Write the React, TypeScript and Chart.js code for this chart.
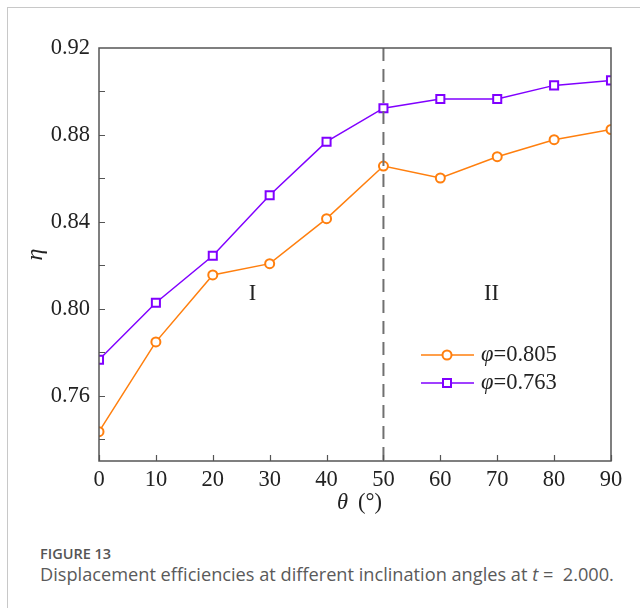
import React, { useEffect, useRef } from "react";
import { Chart, registerables } from "chart.js";

Chart.register(...registerables);

const THETA = [0, 10, 20, 30, 40, 50, 60, 70, 80, 90];
const ETA_PHI_0805 = [0.7435, 0.7848, 0.8156, 0.8208, 0.8415, 0.8657, 0.8602, 0.87, 0.8778, 0.8825];
const ETA_PHI_0763 = [0.7766, 0.8028, 0.8244, 0.8523, 0.8769, 0.8923, 0.8965, 0.8965, 0.9028, 0.9051];
const SERIES_NAMES = ["0.805", "0.763"];
const SERIES_COLORS = ["#ff7f0e", "#8000ff"];
const Y_MAJOR_TICKS = [0.76, 0.8, 0.84, 0.88, 0.92];
const Y_MINOR_TICKS = [0.74, 0.76, 0.78, 0.8, 0.82, 0.84, 0.86, 0.88, 0.9];
const X_TICKS = [0, 10, 20, 30, 40, 50, 60, 70, 80, 90];
const DIVIDER_THETA = 50;
const REGION_LABELS = [
  { text: "I", x: 27, y: 0.807 },
  { text: "II", x: 69, y: 0.807 },
];

const SERIF = '"Liberation Serif", "Times New Roman", serif';
const AXIS_COLOR = "#555";
const FS = 22.5;

const decorPlugin = {
  id: "decor",
  afterDatasetsDraw(chart: any) {
    const { ctx, chartArea: a, scales } = chart;
    const xs = scales.x;
    const ys = scales.y;
    ctx.save();
    // dashed divider
    const dx = xs.getPixelForValue(DIVIDER_THETA);
    ctx.strokeStyle = "#707070";
    ctx.lineWidth = 2;
    ctx.setLineDash([13, 8]);
    ctx.beginPath();
    ctx.moveTo(dx, a.top);
    ctx.lineTo(dx, a.bottom);
    ctx.stroke();
    ctx.setLineDash([]);

    // ticks inside
    ctx.strokeStyle = AXIS_COLOR;
    ctx.lineWidth = 1.2;
    ctx.beginPath();
    for (const v of Y_MINOR_TICKS) {
      const y = Math.round(ys.getPixelForValue(v)) + 0.5;
      ctx.moveTo(a.left, y);
      ctx.lineTo(a.left + 6, y);
    }
    for (const v of X_TICKS) {
      const x = Math.round(xs.getPixelForValue(v)) + 0.5;
      ctx.moveTo(x, a.bottom);
      ctx.lineTo(x, a.bottom - 6);
    }
    ctx.stroke();

    // frame
    ctx.lineWidth = 1.5;
    ctx.strokeStyle = AXIS_COLOR;
    ctx.strokeRect(a.left, a.top, a.right - a.left, a.bottom - a.top);

    // region labels
    ctx.fillStyle = "#222";
    ctx.font = `${FS}px ${SERIF}`;
    ctx.textAlign = "center";
    ctx.textBaseline = "middle";
    for (const r of REGION_LABELS) {
      ctx.fillText(r.text, xs.getPixelForValue(r.x), ys.getPixelForValue(r.y));
    }

    // legend
    const lx0 = a.left + 322;
    const lx1 = a.left + 375;
    const lm = a.left + 348;
    const ly = [a.top + 307, a.top + 335];
    SERIES_NAMES.forEach((name, i) => {
      const y = ly[i];
      ctx.strokeStyle = SERIES_COLORS[i];
      ctx.lineWidth = 1.5;
      ctx.beginPath();
      ctx.moveTo(lx0, y);
      ctx.lineTo(lx1, y);
      ctx.stroke();
      ctx.fillStyle = "#fff";
      ctx.lineWidth = 2;
      ctx.beginPath();
      if (i === 0) {
        ctx.arc(lm, y, 4.5, 0, Math.PI * 2);
      } else {
        ctx.rect(lm - 4, y - 4, 8, 8);
      }
      ctx.fill();
      ctx.stroke();
      ctx.fillStyle = "#222";
      ctx.textAlign = "left";
      ctx.textBaseline = "middle";
      ctx.font = `italic ${FS}px ${SERIF}`;
      const tx = lx1 + 7;
      ctx.fillText("\u03c6", tx, y);
      const w = ctx.measureText("\u03c6").width;
      ctx.font = `${FS}px ${SERIF}`;
      ctx.fillText("=" + name, tx + w, y);
    });

    // axis titles
    ctx.fillStyle = "#222";
    ctx.textBaseline = "middle";
    ctx.textAlign = "left";
    ctx.font = `italic ${FS}px ${SERIF}`;
    const tX = 337;
    const tY = 503;
    ctx.fillText("\u03b8", tX, tY);
    const tw = ctx.measureText("\u03b8").width;
    ctx.font = `${FS}px ${SERIF}`;
    ctx.fillText("(\u00b0)", tX + tw + 10, tY);

    ctx.translate(36, (a.top + a.bottom) / 2);
    ctx.rotate(-Math.PI / 2);
    ctx.textAlign = "center";
    ctx.font = `italic 24px ${SERIF}`;
    ctx.fillText("\u03b7", 0, 0);
    ctx.restore();
  },
};

export default function App() {
  const ref = useRef<HTMLCanvasElement>(null);
  useEffect(() => {
    if (!ref.current) return;
    const mkPoints = (ys: number[]) => THETA.map((x, i) => ({ x, y: ys[i] }));
    const chart = new Chart(ref.current, {
      type: "line",
      data: {
        datasets: [
          {
            label: "φ=" + SERIES_NAMES[0],
            data: mkPoints(ETA_PHI_0805),
            borderColor: SERIES_COLORS[0],
            backgroundColor: "#fff",
            borderWidth: 1.5,
            pointStyle: "circle",
            pointRadius: 4.5,
            pointBorderWidth: 2,
            pointBackgroundColor: "#fff",
            pointBorderColor: SERIES_COLORS[0],
            tension: 0,
          },
          {
            label: "φ=" + SERIES_NAMES[1],
            data: mkPoints(ETA_PHI_0763),
            borderColor: SERIES_COLORS[1],
            backgroundColor: "#fff",
            borderWidth: 1.5,
            pointStyle: "rect",
            pointRadius: 5.7,
            pointBorderWidth: 2,
            pointBackgroundColor: "#fff",
            pointBorderColor: SERIES_COLORS[1],
            tension: 0,
          },
        ],
      },
      options: {
        responsive: false,
        animation: false,
        devicePixelRatio: 1,
        layout: { padding: { left: 0, right: 29, top: 48, bottom: 29 } },
        plugins: { legend: { display: false }, tooltip: { enabled: false } },
        scales: {
          x: {
            type: "linear",
            min: 0,
            max: 90,
            grid: { display: false, drawTicks: false },
            border: { display: false },
            afterBuildTicks: (s: any) => {
              s.ticks = X_TICKS.map((v) => ({ value: v }));
            },
            afterFit: (s: any) => {
              s.height = 40;
            },
            ticks: {
              padding: 6,
              color: "#222",
              font: { family: SERIF, size: FS },
              maxRotation: 0,
            },
          },
          y: {
            type: "linear",
            min: 0.73,
            max: 0.92,
            grid: { display: false, drawTicks: false },
            border: { display: false },
            afterBuildTicks: (s: any) => {
              s.ticks = Y_MAJOR_TICKS.map((v) => ({ value: v }));
            },
            afterFit: (s: any) => {
              s.width = 99;
            },
            ticks: {
              padding: 9,
              color: "#222",
              font: { family: SERIF, size: FS },
              callback: (v: any) => Number(v).toFixed(2),
            },
          },
        },
      },
      plugins: [decorPlugin],
    });
    return () => chart.destroy();
  }, []);

  return (
    <div
      style={{
        position: "fixed",
        left: 0,
        top: 0,
        width: 640,
        height: 608,
        background: "#fff",
        overflow: "hidden",
      }}
    >
      <div
        style={{
          position: "absolute",
          left: 7,
          top: 7,
          right: -2,
          bottom: -2,
          borderTop: "1px solid #c8c8c8",
          borderLeft: "1px solid #c8c8c8",
        }}
      />
      <canvas
        ref={ref}
        width={640}
        height={530}
        style={{ position: "absolute", left: 0, top: 0, width: 640, height: 530 }}
      />
      <div
        style={{
          position: "absolute",
          left: 40,
          top: 545,
          fontFamily: '"Open Sans", sans-serif',
          fontWeight: 600,
          fontSize: 14.5,
          color: "#555",
          lineHeight: "18px",
        }}
      >
        FIGURE 13
      </div>
      <div
        style={{
          position: "absolute",
          left: 40,
          top: 562,
          fontFamily: '"Open Sans", sans-serif',
          fontSize: 18.2,
          color: "#5a5a5a",
          lineHeight: "24px",
          whiteSpace: "pre",
        }}
      >
        Displacement efficiencies at different inclination angles at <i>t</i> =  2.000.
      </div>
    </div>
  );
}
